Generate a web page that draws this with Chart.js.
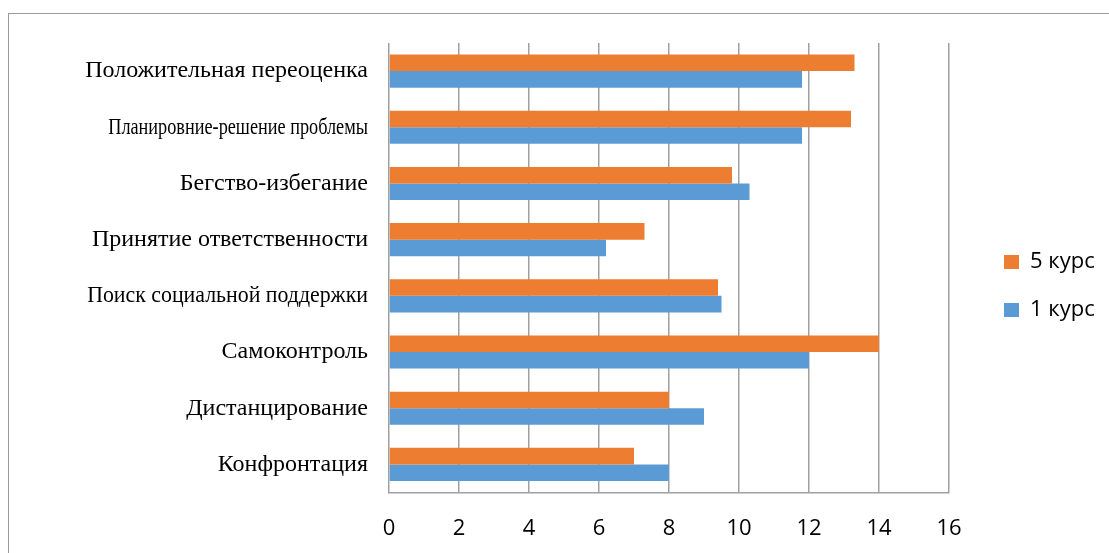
<!DOCTYPE html>
<html>
<head>
<meta charset="utf-8">
<script src="https://cdn.jsdelivr.net/npm/chart.js@4"></script>
<style>
  html, body { margin: 0; padding: 0; background: #fff; overflow: hidden; }
  #frame { position: absolute; left: 8px; top: 13px; width: 1200px; height: 700px; border-left: 1px solid #9a9a9a; border-top: 1px solid #9a9a9a; }
  #wrap { position: absolute; left: 0; top: 0; width: 1109px; height: 553px; }
</style>
</head>
<body>
<div id="frame"></div>
<div id="wrap"><canvas id="c" width="1109" height="553"></canvas></div>
<script>
const categories = [
  "Положительная переоценка",
  "Планировние-решение проблемы",
  "Бегство-избегание",
  "Принятие ответственности",
  "Поиск социальной поддержки",
  "Самоконтроль",
  "Дистанцирование",
  "Конфронтация"
];
const seriesNames = ["5 курс", "1 курс"];
const course5 = [13.3, 13.2, 9.8, 7.3, 9.4, 14, 8, 7];
const course1 = [11.8, 11.8, 10.3, 6.2, 9.5, 12, 9, 8];
const xTicks = [0, 2, 4, 6, 8, 10, 12, 14, 16];

const ORANGE = "#ED7D31";
const BLUE = "#5B9BD5";
const GRID = "#a0a0a0";

const PLOT = { left: 389, right: 949, top: 43, bottom: 492.5 };
const LEGEND_FONT = 22;
const LEGEND_PAD = 26;
const LEGEND_BOX_X = 1004;
const LEGEND_FIRST_CY = 262;

// horizontal text compression seen in the reference for two long labels (style only)
const labelCondense = {
  "Планировние-решение проблемы": 0.76,
  "Поиск социальной поддержки": 0.91
};

const condensePlugin = {
  id: "condenseLabels",
  beforeDraw(chart) {
    const ctx = chart.ctx;
    if (ctx.__patched) return;
    const orig = ctx.fillText;
    ctx.fillText = function (text, x, y, maxW) {
      const f = labelCondense[text];
      if (f) {
        this.save();
        this.translate(x, y);
        this.scale(f, 1);
        if (maxW === undefined) orig.call(this, text, 0, 0); else orig.call(this, text, 0, 0, maxW);
        this.restore();
      } else {
        if (maxW === undefined) orig.call(this, text, x, y); else orig.call(this, text, x, y, maxW);
      }
    };
    ctx.__patched = true;
  }
};

const legendShift = {
  id: "legendShift",
  afterLayout(chart) {
    const lg = chart.legend;
    if (!lg) return;
    const itemH = Math.max(LEGEND_FONT, 14);
    const colH = lg.columnSizes && lg.columnSizes[0] ? lg.columnSizes[0].height : 2 * (itemH + LEGEND_PAD);
    const curY = ((lg.top + LEGEND_PAD) + (lg.bottom - colH)) / 2;
    const dy = LEGEND_FIRST_CY - (curY + itemH / 2);
    lg.top += dy; lg.bottom += dy;
    lg.left = LEGEND_BOX_X - LEGEND_PAD;
    lg.right = 1109;
    lg.width = lg.right - lg.left;
  }
};

new Chart(document.getElementById("c"), {
  type: "bar",
  data: {
    labels: categories,
    datasets: [
      { label: seriesNames[0], data: course5, backgroundColor: ORANGE, borderWidth: 0 },
      { label: seriesNames[1], data: course1, backgroundColor: BLUE, borderWidth: 0 }
    ]
  },
  plugins: [legendShift, condensePlugin],
  options: {
    indexAxis: "y",
    responsive: false,
    animation: false,
    devicePixelRatio: 1,
    layout: { padding: { left: 0, right: 60, top: PLOT.top, bottom: 0 } },
    datasets: { bar: { barPercentage: 1.0, categoryPercentage: 0.59 } },
    plugins: {
      tooltip: { enabled: false },
      legend: {
        display: true,
        position: "right",
        align: "center",
        maxWidth: 100,
        labels: {
          boxWidth: 15,
          boxHeight: 14,
          padding: LEGEND_PAD,
          color: "#000",
          font: { family: "'Open Sans', sans-serif", size: LEGEND_FONT }
        }
      }
    },
    scales: {
      x: {
        type: "linear",
        min: 0,
        max: 16,
        afterBuildTicks(scale) { scale.ticks = xTicks.map(v => ({ value: v })); },
        ticks: {
          color: "#000",
          padding: 23,
          font: { family: "'Open Sans', sans-serif", size: 22 }
        },
        grid: { color: GRID, lineWidth: 1.5, drawTicks: false },
        border: { display: true, color: GRID, width: 1.5 },
        afterFit(scale) { scale.height = 553 - PLOT.bottom; }
      },
      y: {
        ticks: {
          color: "#000",
          padding: 21,
          font: { family: "'Liberation Serif', 'Times New Roman', serif", size: 24 }
        },
        grid: { display: false, drawTicks: false },
        border: { display: false },
        afterFit(scale) { scale.width = PLOT.left; }
      }
    }
  }
});
</script>
</body>
</html>
